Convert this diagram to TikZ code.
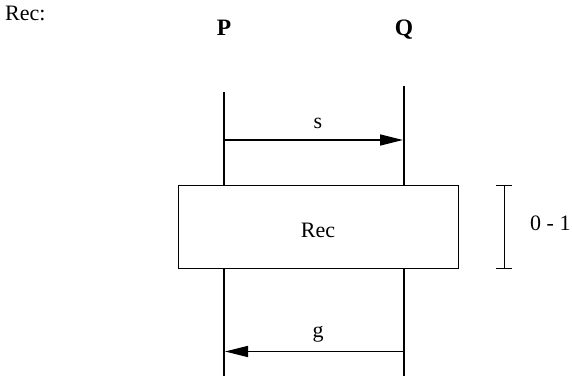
\documentclass[tikz,border=0pt]{standalone}
\usepackage{fontspec}
\setmainfont{Liberation Serif}
\usetikzlibrary{arrows.meta}
\begin{document}
\begin{tikzpicture}[x=1pt,y=-1pt,
  life/.style={line width=2.6pt},
  msg/.style={line width=1.4pt,-{Triangle[length=23pt,width=11pt]}},
  lbl/.style={font=\fontsize{22}{26}\selectfont,inner sep=0pt,anchor=base},
  hdr/.style={font=\fontsize{23.5}{27}\selectfont\bfseries,inner sep=0pt,anchor=base},
  boxst/.style={draw,line width=1pt,minimum width=280pt,minimum height=83pt,inner sep=0pt}]
\useasboundingbox (0,0) rectangle (572,376);
\node[lbl,anchor=base west] (title) at (5,20) {Rec:};
\node[hdr] (P) at (224,35) {P};
\node[hdr] (Q) at (404,35) {Q};
\node[boxst] (rec) at (318.5,226.5) {};
\node[lbl] (rectxt) at (318,237) {Rec};
\coordinate (pt) at (224,92);
\coordinate (qt) at (404,86);
\coordinate (pb) at (224,376);
\coordinate (qb) at (404,376);
\draw[life] (pt) -- (pt |- rec.north);
\draw[life] (qt) -- (qt |- rec.north);
\draw[life] (pb |- rec.south) -- (pb);
\draw[life] (qb |- rec.south) -- (qb);
\coordinate (s1) at (224,140);
\coordinate (s2) at (403,140);
\draw[msg] (s1) -- (s2);
\node[lbl] (s) at (318,128) {s};
\coordinate (g1) at (404,351.5);
\coordinate (g2) at (225,351.5);
\draw[msg] (g1) -- (g2);
\node[lbl] (g) at (318,337) {g};
\coordinate (bt) at (504,185);
\coordinate (bb) at (504,268);
\draw[line width=1pt] (bt) -- (bb);
\draw[line width=1pt] ([xshift=-8pt]bt) -- ([xshift=8pt]bt);
\draw[line width=1pt] ([xshift=-8pt]bb) -- ([xshift=8pt]bb);
\node[lbl,anchor=base west] (card) at (530,230) {0 - 1};
\end{tikzpicture}
\end{document}
